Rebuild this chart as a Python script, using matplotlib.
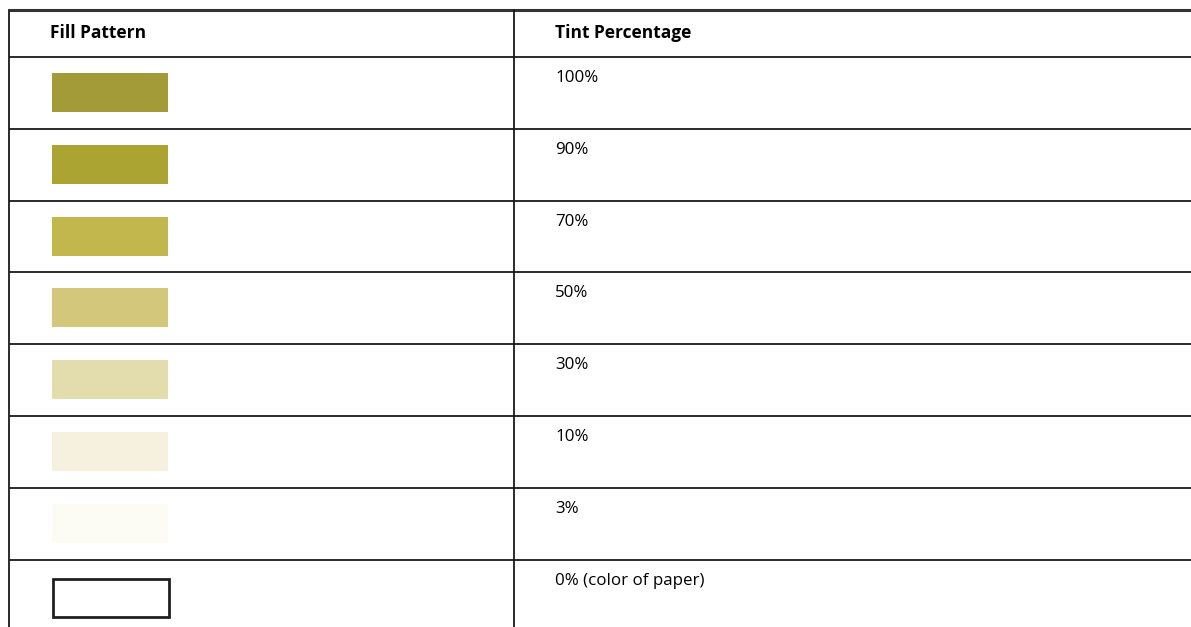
"""
    Tint percentage table with fill swatches.
"""

from matplotlib import pyplot as plt
from matplotlib.patches import Rectangle

HEADERS = ['Fill Pattern', 'Tint Percentage']
TINTS = ['100%', '90%', '70%', '50%', '30%', '10%', '3%', '0% (color of paper)']
SWATCH_COLORS = ['#a39a38', '#aba433', '#c1b74d', '#d3c77c',
                 '#e3ddae', '#f6f0df', '#fcfbf4', 'white']

W, H = 1191, 627
TOP = 10          # top rule
HEAD_BOTTOM = 57  # bottom of header row
ROW_H = 71.8      # height of each body row
LEFT = 9          # left border
DIVIDER = 514     # column divider

fig = plt.figure(figsize=(W / 100, H / 100), dpi=100)
ax = fig.add_axes([0, 0, 1, 1])
ax.set_xlim(0, W)
ax.set_ylim(H, 0)
ax.set_axis_off()

font = ['Open Sans', 'DejaVu Sans']

# rules
ax.plot([LEFT, W], [TOP, TOP], color='#333333', lw=2.2, solid_capstyle='butt')
for i in range(len(TINTS)):
    y = HEAD_BOTTOM + i * ROW_H
    ax.plot([LEFT, W], [y, y], color='#1a1a1a', lw=1.3, solid_capstyle='butt')
ax.plot([LEFT, LEFT], [TOP, H], color='#1a1a1a', lw=1.3)
ax.plot([DIVIDER, DIVIDER], [TOP, H], color='#1a1a1a', lw=1.3)

# header
ax.text(50, 33, HEADERS[0], family=font, fontsize=12.5, fontweight='bold',
        va='center', ha='left', color='black')
ax.text(555, 33, HEADERS[1], family=font, fontsize=12.5, fontweight='bold',
        va='center', ha='left', color='black')

# body rows
for i, (tint, col) in enumerate(zip(TINTS, SWATCH_COLORS)):
    y0 = HEAD_BOTTOM + i * ROW_H
    if col == 'white':
        ax.add_patch(Rectangle((53, y0 + 19), 116, 38, facecolor='white',
                               edgecolor='#231f20', lw=2))
    else:
        ax.add_patch(Rectangle((52, y0 + 16), 116, 39, facecolor=col,
                               edgecolor='none'))
    ax.text(555, y0 + 21, tint, family=font, fontsize=12.2,
            va='center', ha='left', color='black')

fig.savefig('out.png', dpi=100)
